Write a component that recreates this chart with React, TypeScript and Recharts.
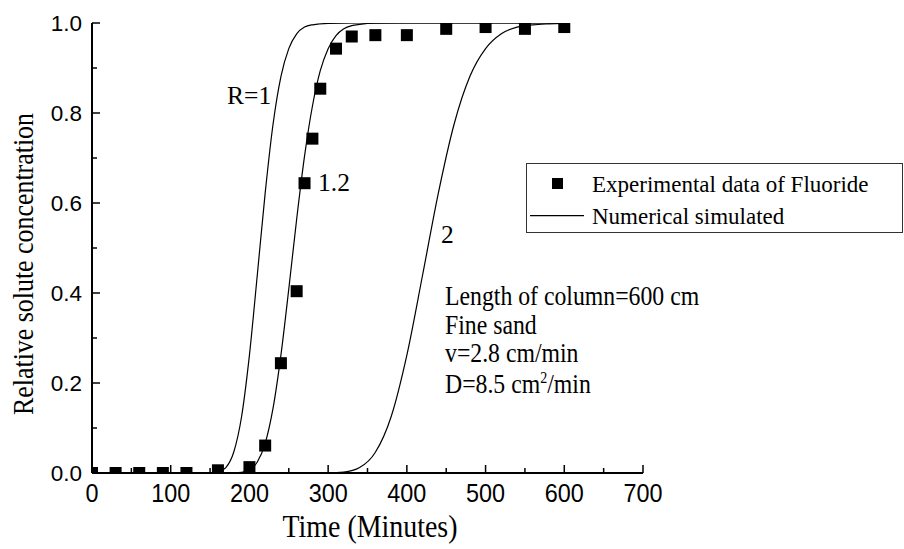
import React from "react";
import { ComposedChart, Legend, Line, Scatter, XAxis, YAxis } from "recharts";

const expTimes = [0, 30, 60, 90, 120, 160, 200, 220, 240, 260, 270, 280, 290, 310, 330, 360, 400, 450, 500, 550, 600];
const expConc = [0, 0, 0, 0, 0, 0.006, 0.013, 0.061, 0.244, 0.404, 0.644, 0.743, 0.854, 0.943, 0.97, 0.973, 0.973, 0.987, 0.991, 0.987, 0.991];

// simulated curves
const r1Times = [0, 100, 140, 150, 160, 170, 180, 190, 200, 210, 220, 230, 240, 250, 260, 270, 280, 300, 340, 600];
const r1Conc = [0, 0, 0, 0.0002, 0.002, 0.012, 0.046, 0.125, 0.262, 0.44, 0.622, 0.775, 0.881, 0.943, 0.976, 0.991, 0.996, 0.999, 1, 1];

const r12Times = [0, 120, 170, 180, 190, 200, 210, 220, 230, 240, 250, 260, 270, 280, 290, 300, 310, 320, 330, 340, 360, 400, 600];
const r12Conc = [0, 0, 0, 0.0002, 0.0013, 0.007, 0.0245, 0.066, 0.144, 0.262, 0.409, 0.564, 0.704, 0.815, 0.894, 0.943, 0.972, 0.987, 0.994, 0.997, 0.9996, 1, 1];

const r2Times = [0, 200, 280, 300, 320, 340, 360, 380, 400, 420, 440, 460, 480, 500, 520, 540, 560, 580, 600];
const r2Conc = [0, 0, 0, 0.0002, 0.002, 0.012, 0.046, 0.125, 0.262, 0.44, 0.622, 0.775, 0.881, 0.943, 0.976, 0.991, 0.996, 0.998, 0.999];

const xMajorTicks = [0, 100, 200, 300, 400, 500, 600, 700];
const xMinorTicks = [50, 150, 250, 350, 450, 550, 650];
const yMajorTicks = [0, 0.2, 0.4, 0.6, 0.8, 1.0];
const yMinorTicks = [0.1, 0.3, 0.5, 0.7, 0.9];

const infoLines = ["Length of column=600 cm", "Fine sand", "v=2.8 cm/min"];

const SANS = "'Liberation Sans', Arial, sans-serif";
const SERIF = "'Liberation Serif', 'Times New Roman', serif";

const toPoints = (ts: number[], cs: number[]) => ts.map((t, i) => ({ t, c: cs[i] }));

const expData = toPoints(expTimes, expConc);
const r1Data = toPoints(r1Times, r1Conc);
const r12Data = toPoints(r12Times, r12Conc);
const r2Data = toPoints(r2Times, r2Conc);

// the original figure's lettering is a bit narrow, so squeeze text horizontally
function Narrow({ x, y, size, family = SERIF, anchor = "start", sx = 0.88, children }: any) {
  return (
    <text
      transform={`translate(${x},${y}) scale(${sx},1)`}
      textAnchor={anchor}
      fontFamily={family}
      fontSize={size}
      fill="#000"
    >
      {children}
    </text>
  );
}

function XTick(props: any) {
  const { x, y, payload } = props;
  const major = xMajorTicks.includes(payload.value);
  return (
    <g>
      <line x1={x} x2={x} y1={y} y2={y - (major ? 8 : 5)} stroke="#000" strokeWidth={1.5} />
      {major && (
        <Narrow x={x} y={y + 29} size={26} family={SANS} anchor="middle" sx={0.9}>
          {payload.value}
        </Narrow>
      )}
    </g>
  );
}

function YTick(props: any) {
  const { x, y, payload } = props;
  const major = yMajorTicks.includes(payload.value);
  return (
    <g>
      <line x1={x} x2={x + (major ? 8 : 5)} y1={y} y2={y} stroke="#000" strokeWidth={1.5} />
      {major && (
        <text x={x - 10} y={y + 7.5} textAnchor="end" fontFamily={SANS} fontSize={22.5} fill="#000">
          {payload.value.toFixed(1)}
        </text>
      )}
    </g>
  );
}

function LegendBox(props: any) {
  const items = (props.payload ?? []).filter((p: any) => p.type !== "none");
  return (
    <svg width={377} height={70} style={{ display: "block" }}>
      <rect x={0.5} y={0.5} width={376} height={69} fill="#fff" stroke="#333" strokeWidth={1} />
      {items.map((entry: any, i: number) => {
        const cy = i === 0 ? 20.5 : 52.7;
        return (
          <g key={entry.value}>
            {entry.type === "square" ? (
              <rect x={26} y={cy - 5.5} width={11} height={11} fill="#000" />
            ) : (
              <line x1={4} x2={58} y1={cy} y2={cy} stroke="#000" strokeWidth={1.2} />
            )}
            <text x={66} y={cy + 8} fontFamily={SERIF} fontSize={23} fill="#000">
              {entry.value}
            </text>
          </g>
        );
      })}
    </svg>
  );
}

const square = (p: any) => <rect x={p.cx - 6} y={p.cy - 6} width={12} height={12} fill="#000" />;

export default function App() {
  return (
    <div style={{ position: "relative", width: 904, height: 549, background: "#fff" }}>
      <style>{`body{margin:0}`}</style>
      <ComposedChart width={904} height={549} margin={{ top: 23, right: 261, bottom: 46, left: 32 }}>
        <XAxis
          type="number"
          dataKey="t"
          domain={[0, 700]}
          allowDataOverflow
          ticks={[...xMajorTicks, ...xMinorTicks].sort((a, b) => a - b)}
          interval={0}
          tick={XTick}
          tickSize={0}
          tickMargin={0}
          tickLine={false}
          axisLine={{ stroke: "#000", strokeWidth: 2 }}
          height={30}
        />
        <YAxis
          type="number"
          dataKey="c"
          domain={[0, 1]}
          allowDataOverflow
          ticks={[...yMajorTicks, ...yMinorTicks].sort((a, b) => a - b)}
          interval={0}
          tick={YTick}
          tickSize={0}
          tickMargin={0}
          tickLine={false}
          axisLine={{ stroke: "#000", strokeWidth: 2 }}
          width={60}
        />
        <Line data={r1Data} dataKey="c" type="monotone" stroke="#000" strokeWidth={1.2} dot={false} legendType="none" isAnimationActive={false} />
        <Line data={r12Data} dataKey="c" type="monotone" stroke="#000" strokeWidth={1.2} dot={false} legendType="none" isAnimationActive={false} />
        <Line data={r2Data} dataKey="c" name="Numerical simulated" type="monotone" stroke="#000" strokeWidth={1.2} dot={false} legendType="line" isAnimationActive={false} />
        <Scatter data={expData} name="Experimental data of Fluoride" fill="#000" shape={square} legendType="square" isAnimationActive={false} />
        <Legend
          layout="horizontal"
          verticalAlign="middle"
          align="center"
          content={LegendBox}
          wrapperStyle={{ position: "absolute", left: 526, top: 163, width: 377, height: 70 }}
        />
      </ComposedChart>
      <svg width={904} height={549} style={{ position: "absolute", left: 0, top: 0, pointerEvents: "none" }}>
        <text
          transform="translate(33,264) rotate(-90)"
          textAnchor="middle"
          fontFamily={SERIF}
          fontSize={29}
          textLength={302}
          lengthAdjust="spacingAndGlyphs"
        >
          Relative solute concentration
        </text>
        <Narrow x={370} y={537} size={31} anchor="middle" sx={0.9}>
          Time (Minutes)
        </Narrow>
        <text x={227} y={104} fontFamily={SERIF} fontSize={25.5}>R=1</text>
        <text x={318} y={191} fontFamily={SERIF} fontSize={25.5}>1.2</text>
        <text x={441} y={243} fontFamily={SERIF} fontSize={25.5}>2</text>
        {infoLines.map((s, i) => (
          <Narrow key={s} x={445} y={305 + i * 28.5} size={27}>
            {s}
          </Narrow>
        ))}
        <Narrow x={445} y={393} size={27}>
          D=8.5 cm<tspan dy={-10} fontSize={16}>2</tspan>
          <tspan dy={10}>/min</tspan>
        </Narrow>
      </svg>
    </div>
  );
}
